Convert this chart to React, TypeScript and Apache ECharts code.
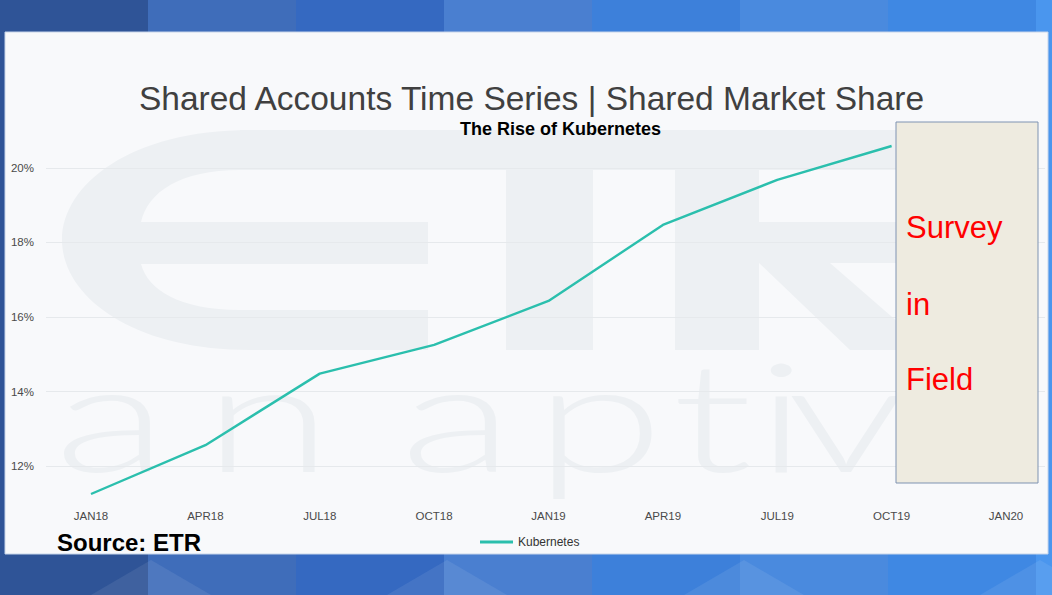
import React, { useEffect, useRef } from "react";
import * as echarts from "echarts";

const categories = ["JAN18", "APR18", "JUL18", "OCT18", "JAN19", "APR19", "JUL19", "OCT19", "JAN20"];
const kubernetes: (number | null)[] = [11.25, 12.56, 14.48, 15.25, 16.43, 18.47, 19.68, 20.59, null];
const yTicks = [12, 14, 16, 18, 20];
const seriesName = "Kubernetes";
const titleText = "Shared Accounts Time Series | Shared Market Share";
const subtitleText = "The Rise of Kubernetes";
const sourceText = "Source: ETR";
const boxLines = ["Survey", "in", "Field"];
const watermarkLetters = ["a", "n", "a", "p", "t", "i", "v"];

const FONT = "'Liberation Sans', Arial, Helvetica, sans-serif";
const WM = "#edf0f3";

const E_PATH =
  "M428 130 L250 130 C130 130 62 185 62 240 C62 295 130 350 250 350 L428 350 L428 310 L240 310 C180 310 148 290 141 264 L428 264 L428 222 L141 222 C148 192 180 170 240 170 L428 170 Z";

let registered = false;
function registerShapes() {
  if (registered) return;
  registered = true;
  echarts.graphic.registerShape("etrE", echarts.graphic.extendPath(E_PATH, {}));
}

export default function App() {
  const ref = useRef<HTMLDivElement>(null);

  useEffect(() => {
    if (!ref.current) return;
    registerShapes();
    const chart = echarts.init(ref.current, undefined, { renderer: "svg" });

    const bandColors = ["#2f5497", "#3f6dba", "#3569c1", "#4a7fd0", "#3d80da", "#4a8ade", "#3f88e3", "#4a96ee"];
    const bands: any[] = bandColors.map((c, i) => ({
      type: "rect",
      z: -20,
      silent: true,
      shape: { x: i * 148, y: 0, width: i === 7 ? 1052 - 7 * 148 : 148, height: 595 },
      style: { fill: c },
    }));
    const tris: any[] = [151, 447, 744, 1040].map((ax) => ({
      type: "polygon",
      z: -19,
      silent: true,
      shape: { points: [[ax - 60, 595], [ax, 560], [ax + 60, 595]] },
      style: { fill: "rgba(255,255,255,0.08)" },
    }));

    const letterX = [54, 203, 400, 534, 672, 755, 787];
    const letters: any[] = watermarkLetters.map((ch, i) => ({
      type: "text",
      z: -8,
      silent: true,
      x: letterX[i],
      y: 413,
      scaleX: 1.55,
      style: {
        text: ch,
        fill: WM,
        fontSize: 152,
        fontFamily: "Lato, 'Noto Sans', sans-serif",
        fontWeight: 300,
        align: "left",
        verticalAlign: "middle",
      },
    }));

    const boxTextY = [227.5, 304, 379];

    const option: any = {
      animation: false,
      grid: [
        { left: 46, right: 7, top: 130.7, bottom: 91.7 },
        { left: 91, right: 46, top: 130.7, bottom: 91.7 },
      ],
      xAxis: [
        { gridIndex: 0, type: "value", min: 0, max: 1, show: false },
        {
          gridIndex: 1,
          type: "category",
          data: categories,
          boundaryGap: false,
          axisLine: { show: false },
          axisTick: { show: false },
          splitLine: { show: false },
          axisLabel: { color: "#4a4a4a", fontSize: 11.5, margin: 7, fontFamily: FONT, interval: 0 },
        },
      ],
      yAxis: [
        {
          gridIndex: 0,
          type: "value",
          min: 11,
          max: 21,
          interval: 1,
          axisLine: { show: false },
          axisTick: { show: false },
          axisLabel: {
            color: "#4a4a4a",
            fontSize: 11.5,
            margin: 12,
            fontFamily: FONT,
            formatter: (v: number) => (yTicks.indexOf(v) >= 0 ? v + "%" : ""),
          },
          splitLine: {
            show: true,
            lineStyle: { color: ["rgba(0,0,0,0)", "#e6e9ec"], width: 1 },
          },
        },
        {
          gridIndex: 1,
          type: "value",
          min: 11,
          max: 21,
          interval: 1,
          show: false,
          splitLine: { show: false },
        },
      ],
      legend: {
        data: [seriesName],
        left: 480,
        top: 536,
        padding: 0,
        icon: "rect",
        itemWidth: 33,
        itemHeight: 3,
        textStyle: { fontSize: 12, color: "#333", fontFamily: FONT },
      },
      series: [
        {
          name: seriesName,
          type: "line",
          xAxisIndex: 1,
          yAxisIndex: 1,
          data: kubernetes,
          symbol: "none",
          showSymbol: false,
          smooth: false,
          color: "#2bbfad",
          lineStyle: { color: "#2bbfad", width: 2.4 },
          z: 3,
        },
      ],
      graphic: [
        ...bands,
        ...tris,
        {
          type: "rect",
          z: -10,
          silent: true,
          shape: { x: 5, y: 32, width: 1043, height: 522 },
          style: { fill: "#f8f9fb", stroke: "#c7d5ea", lineWidth: 1 },
        },
        { type: "etrE", z: -8, silent: true, x: 0, y: 0, style: { fill: WM } },
        { type: "rect", z: -8, silent: true, shape: { x: 240, y: 130, width: 660, height: 40 }, style: { fill: WM } },
        { type: "rect", z: -8, silent: true, shape: { x: 506, y: 170, width: 87, height: 180 }, style: { fill: WM } },
        { type: "rect", z: -8, silent: true, shape: { x: 675, y: 170, width: 84, height: 180 }, style: { fill: WM } },
        { type: "rect", z: -8, silent: true, shape: { x: 759, y: 222, width: 140, height: 41 }, style: { fill: WM } },
        {
          type: "polygon",
          z: -8,
          silent: true,
          shape: { points: [[759, 263], [830, 263], [930, 350], [850, 350]] },
          style: { fill: WM },
        },
        ...letters,
        {
          type: "text",
          z: 5,
          x: 531.5,
          y: 98.5,
          style: {
            text: titleText,
            fill: "#404040",
            fontSize: 33.5,
            fontFamily: FONT,
            align: "center",
            verticalAlign: "middle",
          },
        },
        {
          type: "text",
          z: 5,
          x: 560.5,
          y: 129,
          style: {
            text: subtitleText,
            fill: "#000",
            fontSize: 18,
            fontWeight: "bold",
            fontFamily: FONT,
            align: "center",
            verticalAlign: "middle",
          },
        },
        {
          type: "text",
          z: 5,
          x: 57,
          y: 542.7,
          style: {
            text: sourceText,
            fill: "#000",
            fontSize: 24,
            fontWeight: "bold",
            fontFamily: FONT,
            align: "left",
            verticalAlign: "middle",
          },
        },
        {
          type: "rect",
          z: 10,
          shape: { x: 896, y: 122, width: 142, height: 361 },
          style: { fill: "#eeebe0", stroke: "#7f93b2", lineWidth: 1 },
        },
        ...boxLines.map((t, i) => ({
          type: "text",
          z: 11,
          x: 906,
          y: boxTextY[i],
          style: {
            text: t,
            fill: "#ff0000",
            fontSize: 31,
            fontFamily: FONT,
            align: "left",
            verticalAlign: "middle",
          },
        })),
      ],
    };

    chart.setOption(option);
    return () => {
      chart.dispose();
    };
  }, []);

  return (
    <div
      ref={ref}
      style={{ position: "absolute", left: 0, top: 0, width: 1052, height: 595 }}
    />
  );
}
